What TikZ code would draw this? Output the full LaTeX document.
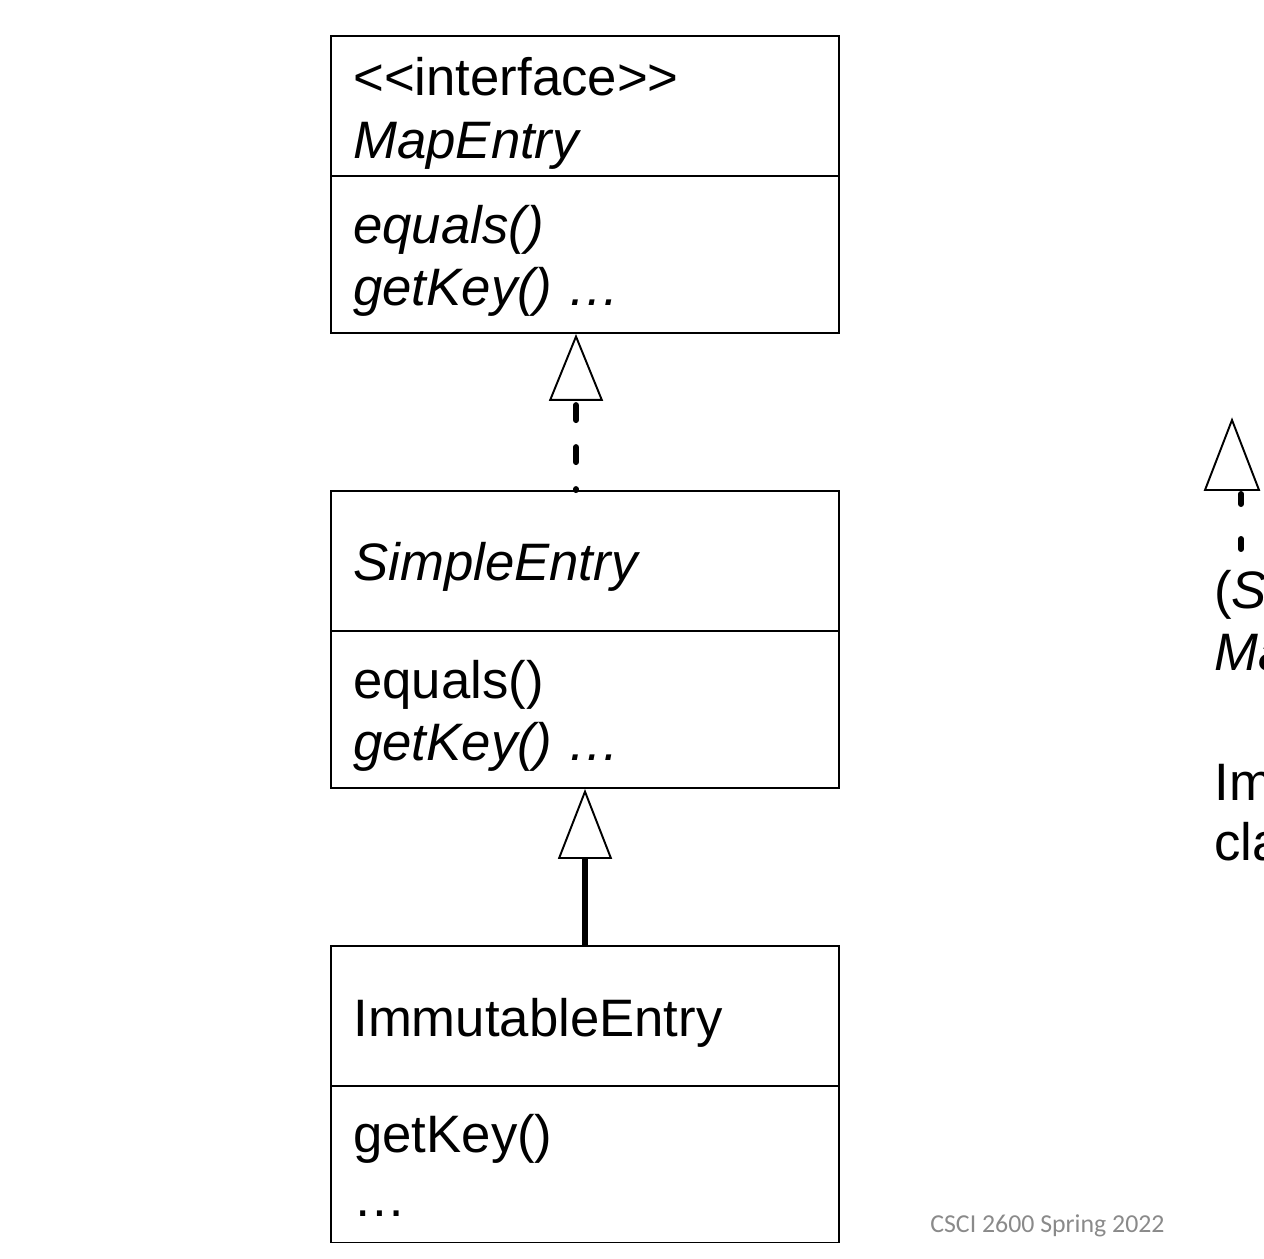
\documentclass[tikz,border=0pt]{standalone}
\usepackage{fontspec}
\setmainfont{Liberation Sans}[Ligatures=TeXOff]
\newfontfamily\footfont{Carlito}
\usetikzlibrary{arrows.meta,positioning}
\definecolor{FootGray}{HTML}{8A8A8A}

\begin{document}
\begin{tikzpicture}[x=0.02cm,y=-0.02cm,
      classbox/.style={draw,line width=1.1pt,minimum width=10.16cm,minimum height=5.94cm,inner sep=0pt},
      member/.style={anchor=base west,inner sep=0pt,font=\fontsize{30}{36}\selectfont},
      realize/.style={line width=3.4pt,dash pattern=on 0.3cm off 0.54cm,line cap=round,
      -{Triangle[open,length=1.34cm,width=1.08cm,line width=1.1pt,line cap=butt]}},
      extend/.style={line width=3.4pt,-{Triangle[open,length=1.4cm,width=1.08cm,line width=1.1pt]}}]
      \useasboundingbox (0,0) rectangle (1264,1258);
      % the three classes
      \node[classbox] (mapentry) at (585,184.5) {};
      \node[classbox] (simpleentry) at (585,639.5) {};
      \node[classbox] (immutable) at (585,1094) {};
      \draw[line width=1.1pt] (mapentry.west |- 0,176) -- (mapentry.east |- 0,176);
      \draw[line width=1.1pt] (simpleentry.west |- 0,631) -- (simpleentry.east |- 0,631);
      \draw[line width=1.1pt] (immutable.west |- 0,1086) -- (immutable.east |- 0,1086);
      \node[member] (mapstereo) at (353,95) {<<interface>>};
      \node[member] (mapname) at (353,158) {\itshape MapEntry};
      \node[member] (mapequals) at (353,243) {\itshape equals()};
      \node[member] (mapgetkey) at (353,305) {\itshape getKey() …};
      \node[member] (simplename) at (353,580) {\itshape SimpleEntry};
      \node[member] (simpleequals) at (353,698) {equals()};
      \node[member] (simplegetkey) at (353,760) {\itshape getKey() …};
      \node[member] (immname) at (353,1036) {ImmutableEntry};
      \node[member] (immgetkey) at (353,1152) {getKey()};
      \node[member] (immdots) at (353,1216) {…};
      % arrows
      \draw[realize,dash phase=0.28cm]
      ([xshift=-0.18cm]simpleentry.north) -- ([xshift=-0.18cm]mapentry.south);
      \draw[extend] (immutable.north) -- (simpleentry.south);
      % cut-off part on the right
      \coordinate (sidefoot) at (1241,549);
      \coordinate (sidetip) at (1232,420);
      \draw[line width=3.4pt,dash pattern=on 0.2cm off 0.7cm,line cap=round]
      (sidefoot) -- (sidefoot |- 0,493);
      \draw[line width=1.1pt,fill=white] (sidetip) -- ++(-27,70) -- ++(54,0) -- cycle;
      \node[member] (sideone) at (1214,608) {(\textit{S}};
      \node[member] (sidetwo) at (1214,670) {\itshape Ma};
      \node[member] (sidethree) at (1214,800) {Im};
      \node[member] (sidefour) at (1214,860) {cla};
      \node[anchor=base west,inner sep=0pt,text=FootGray,font=\footfont\fontsize{14.7}{16}\selectfont] (footer) at (930,1232) {CSCI 2600 Spring 2022};
    \end{tikzpicture}
\end{document}
